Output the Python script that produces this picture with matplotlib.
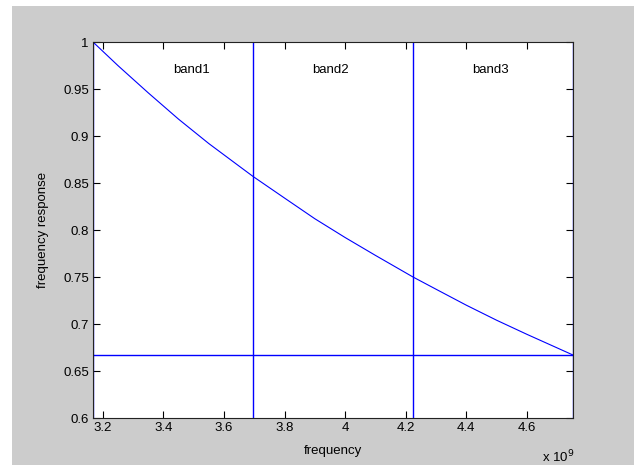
import matplotlib
matplotlib.use('Agg')
import matplotlib.pyplot as plt
from matplotlib.patches import Rectangle
from matplotlib.ticker import FuncFormatter

# pontos (frequência em Hz, resposta)
freq = [3.168e9, 3.25e9, 3.35e9, 3.45e9, 3.55e9, 3.65e9, 3.696e9, 3.8e9, 3.9e9,
        4.0e9, 4.1e9, 4.224e9, 4.3e9, 4.4e9, 4.5e9, 4.6e9, 4.752e9]
resp = [1.000, 0.975, 0.946, 0.918, 0.892, 0.868, 0.857, 0.834, 0.812,
        0.792, 0.773, 0.750, 0.737, 0.720, 0.704, 0.689, 0.667]

band_edges = [3.168e9, 3.696e9, 4.224e9, 4.752e9]
threshold = 0.667
band_names = ['band1', 'band2', 'band3']
band_text_x = [3.432e9, 3.891e9, 4.419e9]
band_text_y = 0.97

plt.rcParams['font.family'] = ['Liberation Sans', 'DejaVu Sans']

fig = plt.figure(figsize=(6.34, 4.65), dpi=100, facecolor='white')
# fundo cinza da janela do MATLAB
fig.patches.append(Rectangle((12 / 634, 0), 1, 1 - 6 / 465, transform=fig.transFigure,
                             facecolor='#cccccc', edgecolor='none', zorder=-1))

ax = fig.add_axes([93 / 634, 1 - 418 / 465, 480 / 634, 376 / 465])
ax.set_facecolor('white')

ax.plot(freq, resp, color='blue', lw=0.8)
ax.axhline(threshold, color='blue', lw=1.0)
for e in band_edges:
    ax.axvline(e, color='blue', lw=1.0)

for name, tx in zip(band_names, band_text_x):
    ax.text(tx, band_text_y, name, ha='left', va='center', fontsize=9.5)

ax.set_xlim(band_edges[0], band_edges[-1])
ax.set_ylim(0.6, 1.0)
ax.set_xticks([3.2e9, 3.4e9, 3.6e9, 3.8e9, 4.0e9, 4.2e9, 4.4e9, 4.6e9])
ax.set_yticks([0.6, 0.65, 0.7, 0.75, 0.8, 0.85, 0.9, 0.95, 1.0])
ax.xaxis.set_major_formatter(FuncFormatter(lambda v, p: '%g' % round(v / 1e9, 2)))
ax.yaxis.set_major_formatter(FuncFormatter(lambda v, p: '%g' % round(v, 2)))
ax.tick_params(direction='in', length=5, width=0.8, top=True, right=True,
               labelsize=9.5, colors='black', pad=3)

for s in ax.spines.values():
    s.set_color('#222222')
    s.set_linewidth(0.8)

ax.set_xlabel('frequency', fontsize=9.5, labelpad=8)
ax.set_ylabel('frequency response', fontsize=9.5, labelpad=10)
fig.text(542 / 634, 1 - 462 / 465, r'x 10$^{9}$', fontsize=9.5, ha='left', va='baseline')

fig.savefig('out.png', dpi=100, facecolor=fig.get_facecolor())
